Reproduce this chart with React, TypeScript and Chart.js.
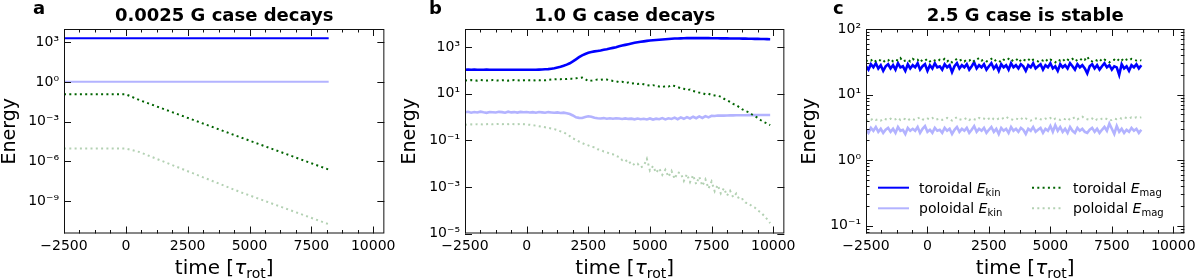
import { useEffect, useRef } from "react";
import { Chart, registerables } from "chart.js";

Chart.register(...registerables);

const FONT = "'DejaVu Sans', 'Liberation Sans', sans-serif";
const COL_TOR_KIN = "#0000ff";
const COL_POL_KIN = "#b3b3ff";
const COL_TOR_MAG = "#006400";
const COL_POL_MAG = "#b3d1b3";

const xTickValues = [-2500, 0, 2500, 5000, 7500, 10000];
const X_MIN = -2500;
const X_MAX = 10450;

// ---------- panel a : 0.0025 G case decays ----------
const timeA = [-2500, 0, 560, 4600, 8200];
const torKinA = [2000, 2000, 2000, 2000, 2000];
const polKinA = [1.05, 1.05, 1.05, 1.05, 1.05];
const torMagA = [0.117, 0.117, 0.042, 6.9e-5, 2.4e-7];
const polMagA = [9.3e-6, 9.3e-6, 5e-6, 5e-9, 1.8e-11];
const yTicksA = [1e3, 1, 1e-3, 1e-6, 1e-9];

// ---------- panel b : 1.0 G case decays ----------
const timeB = [
  -2500, -2375, -2250, -2125, -2000, -1875, -1750, -1625, -1500, -1375,
  -1250, -1125, -1000, -875, -750, -625, -500, -375, -250, -125,
  0, 125, 250, 375, 500, 625, 750, 875, 1000, 1125,
  1250, 1375, 1500, 1625, 1750, 1875, 2000, 2125, 2250, 2375,
  2500, 2625, 2750, 2875, 3000, 3125, 3250, 3375, 3500, 3625,
  3750, 3875, 4000, 4125, 4250, 4375, 4500, 4625, 4750, 4875,
  5000, 5125, 5250, 5375, 5500, 5625, 5750, 5875, 6000, 6125,
  6250, 6375, 6500, 6625, 6750, 6875, 7000, 7125, 7250, 7375,
  7500, 7625, 7750, 7875, 8000, 8125, 8250, 8375, 8500, 8625,
  8750, 8875, 9000, 9125, 9250, 9375, 9500, 9625, 9750, 9875,
];
const torKinB = [
  106, 107, 106, 107, 106, 105, 106, 107, 106, 106,
  105, 106, 106, 105, 106, 106, 105, 105, 106, 106,
  105, 105, 106, 106, 107, 108, 110, 112, 117, 123,
  132, 141, 155, 174, 200, 240, 295, 363, 437, 501,
  562, 603, 646, 676, 708, 759, 794, 851, 912, 977,
  1072, 1148, 1230, 1318, 1413, 1514, 1585, 1660, 1738, 1820,
  1905, 1950, 1995, 2042, 2089, 2138, 2188, 2239, 2291, 2320,
  2344, 2360, 2380, 2390, 2399, 2399, 2399, 2399, 2390, 2380,
  2370, 2360, 2350, 2344, 2340, 2330, 2320, 2310, 2300, 2290,
  2280, 2270, 2260, 2250, 2230, 2210, 2200, 2180, 2160, 2150,
];
const polKinB = [
  1.58, 1.66, 1.52, 1.62, 1.55, 1.68, 1.57, 1.5, 1.63, 1.59,
  1.54, 1.65, 1.6, 1.52, 1.67, 1.56, 1.61, 1.53, 1.64, 1.58,
  1.62, 1.55, 1.6, 1.51, 1.63, 1.57, 1.52, 1.61, 1.55, 1.5,
  1.56, 1.48, 1.52, 1.43, 1.32, 1.15, 0.96, 0.91, 0.9, 0.99,
  1.07, 1.02, 0.92, 0.88, 0.86, 0.89, 0.84, 0.88, 0.83, 0.87,
  0.85, 0.81, 0.86, 0.82, 0.84, 0.79, 0.85, 0.8, 0.83, 0.78,
  0.86, 0.77, 0.84, 0.8, 0.89, 0.78, 0.87, 0.82, 0.93, 0.8,
  0.95, 0.83, 0.98, 0.86, 1.02, 0.88, 1.05, 0.9, 1.08, 0.95,
  1.12, 1.1, 1.14, 1.13, 1.14, 1.15, 1.16, 1.16, 1.17, 1.17,
  1.18, 1.18, 1.19, 1.19, 1.19, 1.2, 1.2, 1.2, 1.2, 1.2,
];
const torMagB = [
  37, 36, 38, 37, 36, 38, 37, 36, 37, 38,
  37, 36, 37, 38, 36, 37, 38, 37, 36, 37,
  38, 37, 36, 38, 37, 38, 37, 39, 40, 41,
  42, 41, 43, 42, 44, 43, 45, 47, 49, 42,
  34, 36, 38, 40, 39, 41, 40, 37, 35, 34,
  31, 32, 29, 30, 27, 28, 26, 27, 25, 23,
  22, 23, 21, 20, 19, 21, 20, 23, 21, 19,
  17, 16, 14, 15, 13, 12, 11, 10.5, 9.3, 9.8,
  8.7, 8.3, 8.0, 7.4, 6.0, 5.2, 4.4, 3.6, 3.2, 2.6,
  2.1, 1.8, 1.6, 1.3, 1.08, 0.9, 0.72, 0.6, 0.52, 0.44,
];
const polMagB = [
  0.47, 0.46, 0.48, 0.47, 0.49, 0.48, 0.47, 0.49, 0.5, 0.48,
  0.49, 0.5, 0.48, 0.5, 0.49, 0.51, 0.49, 0.48, 0.5, 0.49,
  0.47, 0.46, 0.44, 0.42, 0.4, 0.38, 0.36, 0.34, 0.32, 0.3,
  0.27, 0.24, 0.22, 0.18, 0.15, 0.12, 0.105, 0.088, 0.076, 0.066,
  0.06, 0.052, 0.05, 0.041, 0.039, 0.033, 0.031, 0.026, 0.025, 0.021,
  0.019, 0.014, 0.015, 0.01, 0.012, 0.0085, 0.0098, 0.0068, 0.008, 0.016,
  0.005, 0.0078, 0.004, 0.0062, 0.0033, 0.0055, 0.0027, 0.0048, 0.0022, 0.0042,
  0.0038, 0.0018, 0.0035, 0.0016, 0.0032, 0.0013, 0.0027, 0.0011, 0.0021, 0.00085,
  0.0017, 0.00065, 0.0012, 0.00052, 0.00088, 0.00042, 0.00068, 0.00036, 0.00052, 0.00029,
  0.0003, 0.00021, 0.0002, 0.00015, 0.00013, 0.000098, 0.00008, 0.000058, 0.000041, 0.000028,
];
const yTicksB = [1e3, 10, 0.1, 1e-3, 1e-5];

// ---------- panel c : 2.5 G case is stable ----------
const timeC = [
  -2500, -2400, -2300, -2200, -2100, -2000, -1900, -1800, -1700, -1600,
  -1500, -1400, -1300, -1200, -1100, -1000, -900, -800, -700, -600,
  -500, -400, -300, -200, -100, 0, 100, 200, 300, 400,
  500, 600, 700, 800, 900, 1000, 1100, 1200, 1300, 1400,
  1500, 1600, 1700, 1800, 1900, 2000, 2100, 2200, 2300, 2400,
  2500, 2600, 2700, 2800, 2900, 3000, 3100, 3200, 3300, 3400,
  3500, 3600, 3700, 3800, 3900, 4000, 4100, 4200, 4300, 4400,
  4500, 4600, 4700, 4800, 4900, 5000, 5100, 5200, 5300, 5400,
  5500, 5600, 5700, 5800, 5900, 6000, 6100, 6200, 6300, 6400,
  6500, 6600, 6700, 6800, 6900, 7000, 7100, 7200, 7300, 7400,
  7500, 7600, 7700, 7800, 7900, 8000, 8100, 8200, 8300, 8400,
  8500, 8600, 8700,
];
const torKinC = [
  27, 24, 29, 26, 30, 25, 28, 23, 27, 29,
  25, 28, 24, 30, 26, 27, 23, 29, 25, 28,
  26, 30, 24, 27, 29, 23, 28, 25, 30, 26,
  27, 24, 29, 26, 28, 22, 27, 30, 25, 28,
  26, 29, 24, 27, 31, 25, 28, 26, 29, 24,
  27, 30, 25, 28, 23, 29, 26, 28, 24, 30,
  26, 28, 25, 29, 27, 23, 28, 26, 30, 25,
  27, 29, 24, 28, 26, 30, 25, 27, 23, 29,
  26, 28, 25, 30, 27, 24, 29, 26, 28, 25,
  21, 27, 29, 25, 28, 24, 27, 30, 26, 28,
  24, 27, 26, 20, 29, 25, 27, 23, 28, 26,
  29, 25, 28,
];
const polKinC = [
  2.9, 2.6, 3.1, 2.8, 3.2, 2.7, 3.0, 2.6, 2.9, 3.1,
  2.7, 3.0, 2.6, 3.2, 2.8, 2.9, 2.5, 3.1, 2.8, 3.0,
  2.8, 3.2, 2.6, 3.0, 3.3, 2.7, 2.9, 2.6, 3.1, 2.8,
  2.9, 2.6, 3.1, 2.8, 3.0, 2.5, 2.9, 3.2, 2.7, 3.0,
  2.8, 3.1, 2.6, 2.9, 3.3, 2.7, 3.0, 2.8, 3.1, 2.6,
  2.9, 3.2, 2.7, 3.0, 2.5, 3.1, 2.8, 3.0, 2.6, 3.2,
  2.8, 3.0, 2.7, 3.1, 2.9, 2.5, 3.0, 2.8, 3.2, 2.7,
  2.9, 3.1, 2.6, 3.0, 2.8, 3.3, 2.7, 3.4, 2.8, 3.2,
  2.7, 3.0, 2.6, 3.2, 2.8, 2.6, 3.1, 2.8, 3.0, 2.7,
  2.6, 2.9, 3.1, 2.7, 3.0, 2.6, 2.9, 3.2, 2.8, 3.6,
  3.0, 2.5, 3.3, 2.7, 3.0, 2.6, 2.9, 2.7, 3.1, 2.8,
  3.0, 2.6, 2.9,
];
const torMagC = [
  32, 34, 33, 35, 32, 34, 33, 31, 34, 33,
  35, 32, 34, 33, 36, 32, 33, 34, 32, 35,
  33, 34, 31, 34, 33, 35, 32, 34, 33, 32,
  34, 33, 35, 32, 34, 31, 33, 35, 33, 34,
  32, 34, 33, 35, 32, 34, 36, 33, 34, 32,
  33, 35, 32, 34, 33, 31, 34, 33, 35, 32,
  34, 33, 36, 32, 34, 33, 35, 32, 34, 33,
  32, 34, 33, 35, 32, 34, 33, 31, 34, 33,
  35, 32, 34, 33, 35, 32, 34, 33, 36, 34,
  38, 33, 32, 34, 33, 35, 32, 34, 33, 31,
  33, 34, 32, 35, 33, 36, 34, 33, 35, 34,
  33, 34, 33,
];
const polMagC = [
  4.0, 4.2, 4.1, 4.3, 4.1, 4.2, 4.0, 4.3, 4.2, 4.1,
  4.3, 4.1, 4.2, 4.4, 4.1, 4.3, 4.2, 4.0, 4.3, 4.2,
  4.1, 4.3, 4.5, 4.2, 4.1, 4.3, 4.2, 4.4, 4.1, 4.2,
  4.3, 4.1, 4.2, 4.4, 4.2, 4.0, 4.3, 4.5, 4.2, 4.1,
  4.2, 4.4, 4.1, 4.3, 4.2, 4.1, 4.4, 4.2, 4.3, 4.1,
  4.3, 4.5, 4.2, 4.1, 4.3, 4.2, 4.4, 4.6, 4.3, 4.2,
  4.1, 4.3, 4.2, 4.4, 4.1, 4.3, 4.2, 4.0, 4.2, 4.3,
  4.4, 4.2, 4.1, 4.3, 4.2, 4.4, 4.1, 4.3, 4.2, 4.1,
  4.3, 4.2, 4.4, 4.1, 4.3, 4.5, 4.2, 4.4, 4.6, 4.3,
  4.2, 4.1, 4.3, 4.0, 4.2, 4.1, 4.3, 4.4, 4.2, 4.0,
  4.1, 4.3, 4.2, 4.4, 4.3, 4.5, 4.4, 4.3, 4.5, 4.4,
  4.5, 4.4, 4.5,
];
const yTicksC = [100, 10, 1, 0.1];

const seriesLabels = ["toroidal", "poloidal", "toroidal", "poloidal"];
const seriesSubs = ["kin", "kin", "mag", "mag"];

type PanelCfg = {
  letter: string;
  letterX: number;
  title: string;
  time: number[];
  values: number[][];
  yMin: number;
  yMax: number;
  yTicks: number[];
  yMinor: boolean;
  left: number;
  right: number;
  legend: boolean;
  noisyWidth: number;
};

const panels: PanelCfg[] = [
  {
    letter: "a", letterX: 33, title: "0.0025 G case decays", time: timeA,
    values: [torKinA, polKinA, torMagA, polMagA],
    yMin: Math.pow(10, -11.45), yMax: 1e4, yTicks: yTicksA, yMinor: false,
    left: 64, right: 385, legend: false, noisyWidth: 2,
  },
  {
    letter: "b", letterX: 29, title: "1.0 G case decays", time: timeB,
    values: [torKinB, polKinB, torMagB, polMagB],
    yMin: 1e-5, yMax: Math.pow(10, 3.77), yTicks: yTicksB, yMinor: false,
    left: 65, right: 386, legend: false, noisyWidth: 2.6,
  },
  {
    letter: "c", letterX: 33, title: "2.5 G case is stable", time: timeC,
    values: [torKinC, polKinC, torMagC, polMagC],
    yMin: Math.pow(10, -1.12), yMax: 100, yTicks: yTicksC, yMinor: true,
    left: 66, right: 387, legend: true, noisyWidth: 2.6,
  },
];

const styles = [
  { color: COL_TOR_KIN, dash: [] as number[], width: 2 },
  { color: COL_POL_KIN, dash: [] as number[], width: 2 },
  { color: COL_TOR_MAG, dash: [2, 3.3], width: 2 },
  { color: COL_POL_MAG, dash: [2, 3.3], width: 2 },
];

const W = 400;
const H = 279;
const TOP = 29;
const BOTTOM = 233.5;

const SUP: Record<string, string> = {
  "-": "\u207B", "0": "\u2070", "1": "\u00B9", "2": "\u00B2", "3": "\u00B3",
  "4": "\u2074", "5": "\u2075", "6": "\u2076", "7": "\u2077", "8": "\u2078", "9": "\u2079",
};
function decadeLabel(v: number): string {
  const e = Math.round(Math.log10(v));
  return "10" + String(e).split("").map((c) => SUP[c]).join("");
}

type Seg = { text: string; font: string; dy?: number };
function drawRich(ctx: CanvasRenderingContext2D, segs: Seg[], x: number, y: number, align: "left" | "center") {
  let w = 0;
  for (const s of segs) {
    ctx.font = s.font;
    w += ctx.measureText(s.text).width;
  }
  let cx = align === "center" ? x - w / 2 : x;
  ctx.textAlign = "left";
  for (const s of segs) {
    ctx.font = s.font;
    ctx.fillText(s.text, cx, y + (s.dy || 0));
    cx += ctx.measureText(s.text).width;
  }
}

function makeDecor(p: PanelCfg) {
  return {
    id: "decor" + p.letter,
    afterDraw(chart: any) {
      const ctx: CanvasRenderingContext2D = chart.ctx;
      const ca = chart.chartArea;
      const xs = chart.scales.x;
      const ys = chart.scales.y;
      ctx.save();
      ctx.strokeStyle = "#111";
      ctx.lineWidth = 1;
      ctx.setLineDash([]);
      const line = (x1: number, y1: number, x2: number, y2: number) => {
        ctx.beginPath();
        ctx.moveTo(x1, y1);
        ctx.lineTo(x2, y2);
        ctx.stroke();
      };
      // frame
      ctx.strokeRect(ca.left + 0.5, ca.top + 0.5, ca.right - ca.left - 1, ca.bottom - ca.top - 1);
      // x ticks (major every 2500, minor every 625)
      for (let v = X_MIN; v <= X_MAX; v += 625) {
        const px = Math.round(xs.getPixelForValue(v)) + 0.5;
        const len = xTickValues.includes(v) ? 7 : 3.5;
        line(px, ca.bottom, px, ca.bottom - len);
        line(px, ca.top, px, ca.top + len);
      }
      // y ticks
      for (const v of p.yTicks) {
        const py = Math.round(ys.getPixelForValue(v)) + 0.5;
        line(ca.left, py, ca.left + 7, py);
        line(ca.right, py, ca.right - 7, py);
      }
      if (p.yMinor) {
        for (let e = -2; e <= 2; e++) {
          for (let k = 2; k <= 9; k++) {
            const v = k * Math.pow(10, e);
            if (v <= p.yMin || v >= p.yMax) continue;
            const py = Math.round(ys.getPixelForValue(v)) + 0.5;
            line(ca.left, py, ca.left + 3.5, py);
            line(ca.right, py, ca.right - 3.5, py);
          }
        }
      }
      // texts
      ctx.fillStyle = "#000";
      ctx.textBaseline = "alphabetic";
      ctx.font = `bold 18px ${FONT}`;
      ctx.textAlign = "center";
      ctx.fillText(p.title, (ca.left + ca.right) / 2, 21);
      ctx.textAlign = "left";
      ctx.fillText(p.letter, p.letterX, 14);
      // x axis title
      drawRich(
        ctx,
        [
          { text: "time [", font: `20px ${FONT}` },
          { text: "\u03C4", font: `italic 20px ${FONT}` },
          { text: "rot", font: `14px ${FONT}`, dy: 4 },
          { text: "]", font: `20px ${FONT}` },
        ],
        (ca.left + ca.right) / 2,
        274,
        "center"
      );
      // y axis title
      ctx.save();
      ctx.translate(15, (ca.top + ca.bottom) / 2);
      ctx.rotate(-Math.PI / 2);
      ctx.font = `19px ${FONT}`;
      ctx.textAlign = "center";
      ctx.fillText("Energy", 0, 0);
      ctx.restore();
      // legend
      if (p.legend) {
        const rows = [187.7, 208.3];
        const cols = [
          { lx: 78, tx: 119 },
          { lx: 232, tx: 273 },
        ];
        for (let i = 0; i < 4; i++) {
          const col = cols[Math.floor(i / 2)];
          const y = rows[i % 2];
          const st = styles[i];
          ctx.strokeStyle = st.color;
          ctx.lineWidth = st.width;
          ctx.setLineDash(st.dash);
          line(col.lx, y, col.lx + 31, y);
          ctx.setLineDash([]);
          ctx.fillStyle = "#000";
          drawRich(
            ctx,
            [
              { text: seriesLabels[i] + " ", font: `14px ${FONT}` },
              { text: "E", font: `italic 14px ${FONT}` },
              { text: seriesSubs[i], font: `10px ${FONT}`, dy: 3 },
            ],
            col.tx,
            y + 5,
            "left"
          );
        }
      }
      ctx.restore();
    },
  };
}

function Panel({ p, index }: { p: PanelCfg; index: number }) {
  const ref = useRef<HTMLCanvasElement | null>(null);
  useEffect(() => {
    if (!ref.current) return;
    const datasets = p.values.map((vals, i) => ({
      label: seriesLabels[i] + " E_" + seriesSubs[i],
      data: p.time.map((t, j) => ({ x: t, y: vals[j] })),
      borderColor: styles[i].color,
      backgroundColor: styles[i].color,
      borderWidth: i < 2 ? p.noisyWidth : styles[i].width,
      borderDash: styles[i].dash,
      pointRadius: 0,
      tension: 0,
      fill: false,
      order: 3 - i,
    }));
    const chart = new Chart(ref.current, {
      type: "line",
      data: { datasets },
      options: {
        responsive: false,
        animation: false,
        devicePixelRatio: 1,
        layout: { padding: { left: 0, right: W - p.right, top: TOP, bottom: 0 } },
        plugins: { legend: { display: false }, title: { display: false }, tooltip: { enabled: false } },
        scales: {
          x: {
            type: "linear",
            min: X_MIN,
            max: X_MAX,
            grid: { display: false, drawTicks: false },
            border: { display: false },
            afterBuildTicks: (scale: any) => {
              scale.ticks = xTickValues.map((v) => ({ value: v }));
            },
            afterFit: (scale: any) => {
              scale.height = H - BOTTOM;
            },
            ticks: {
              autoSkip: false,
              maxRotation: 0,
              padding: 4,
              color: "#000",
              font: { family: FONT, size: 14 },
              callback: (v: any) => (Number(v) < 0 ? "\u2212" + Math.abs(Number(v)) : String(v)),
            },
          },
          y: {
            type: "logarithmic",
            min: p.yMin,
            max: p.yMax,
            grid: { display: false, drawTicks: false },
            border: { display: false },
            afterBuildTicks: (scale: any) => {
              scale.ticks = p.yTicks.map((v) => ({ value: v }));
            },
            afterFit: (scale: any) => {
              scale.width = p.left;
            },
            ticks: {
              autoSkip: false,
              padding: 5,
              color: "#000",
              font: { family: FONT, size: 14 },
              callback: (v: any) => decadeLabel(Number(v)),
            },
          },
        },
      } as any,
      plugins: [makeDecor(p)],
    });
    return () => chart.destroy();
  }, [p]);
  return (
    <div style={{ position: "absolute", left: index * W, top: 0, width: W, height: H }}>
      <canvas ref={ref} width={W} height={H} style={{ width: W, height: H, display: "block" }} />
    </div>
  );
}

export default function App() {
  return (
    <div style={{ position: "fixed", left: 0, top: 0, width: 1200, height: H, background: "#fff" }}>
      {panels.map((p, i) => (
        <Panel key={p.letter} p={p} index={i} />
      ))}
    </div>
  );
}
